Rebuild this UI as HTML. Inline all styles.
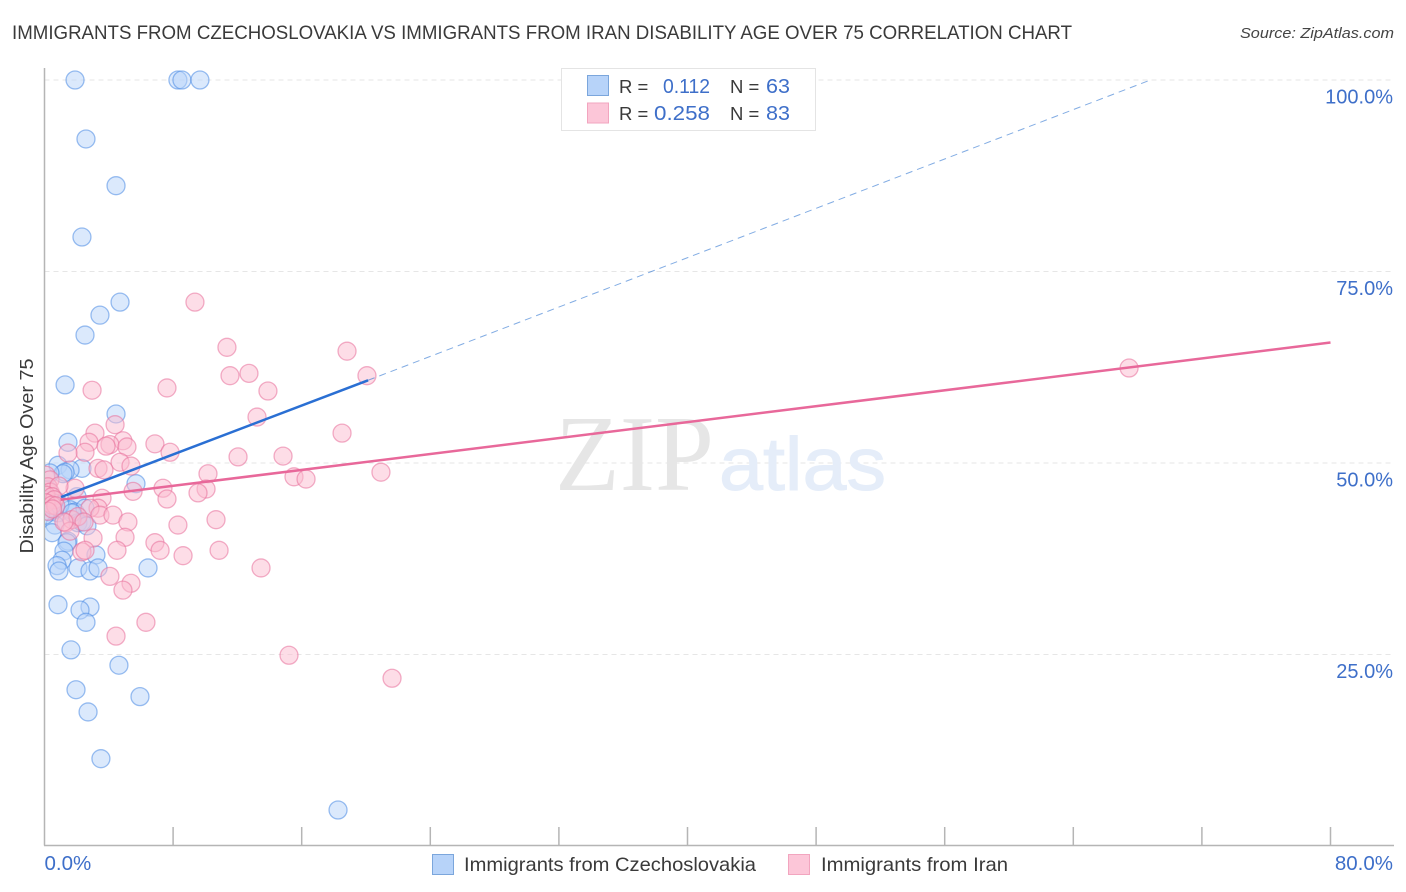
<!DOCTYPE html>
<html lang="en">
<head>
<meta charset="utf-8">
<title>Immigrants from Czechoslovakia vs Immigrants from Iran Disability Age Over 75 Correlation Chart</title>
<style>
html,body{margin:0;padding:0;background:#fff;}
svg{display:block;font-family:"Liberation Sans",sans-serif;}
</style>
</head>
<body>
<svg id="chart" xmlns="http://www.w3.org/2000/svg" width="1406" height="892" viewBox="0 0 1406 892">
  <defs>
    <clipPath id="plot-clip"><rect x="45" y="60" width="1350" height="785"/></clipPath>
  </defs>
  <rect x="0" y="0" width="1406" height="892" fill="#ffffff"/>
  <text x="12" y="39" font-size="19" fill="#3a3a3a" textLength="1060" lengthAdjust="spacingAndGlyphs">IMMIGRANTS FROM CZECHOSLOVAKIA VS IMMIGRANTS FROM IRAN DISABILITY AGE OVER 75 CORRELATION CHART</text>
  <text x="1394" y="38" font-size="15" font-style="italic" fill="#444444" text-anchor="end" textLength="154" lengthAdjust="spacingAndGlyphs">Source: ZipAtlas.com</text>

  <g id="grid"></g>

  <g>
    <text x="555" y="490" font-family="'Liberation Serif',serif" font-size="108" fill="#e6e6e6" textLength="159" lengthAdjust="spacingAndGlyphs">ZIP</text>
    <text x="719" y="490" font-size="75" fill="#e5edf9" stroke="#e5edf9" stroke-width="1" textLength="167" lengthAdjust="spacingAndGlyphs">atlas</text>
  </g>

  <g id="axes"></g>
  <g clip-path="url(#plot-clip)">
    <g id="points-blue"></g>
    <g id="points-pink"></g>
    <g id="trends"></g>
  </g>
  <g id="tick-labels"></g>

  <text transform="translate(33,456) rotate(-90)" font-size="18" fill="#3a3a3a" text-anchor="middle" textLength="195" lengthAdjust="spacingAndGlyphs">Disability Age Over 75</text>

  <g>
    <rect x="561.5" y="68.5" width="254" height="62" fill="#ffffff" stroke="#e4e4e4" stroke-width="1"/>
    <rect x="587.5" y="75.5" width="21" height="20" fill="#b7d3f9" stroke="#7ba6dc" stroke-width="1"/>
    <rect x="587.5" y="103" width="21" height="20" fill="#fcc6d8" stroke="#f2a5bf" stroke-width="1"/>
    <text x="619" y="93" font-size="18.5" fill="#3a3a3a">R =</text>
    <text x="710" y="93" font-size="20.5" fill="#3e6fc9" text-anchor="end" textLength="47" lengthAdjust="spacingAndGlyphs">0.112</text>
    <text x="730" y="93" font-size="18.5" fill="#3a3a3a">N =</text>
    <text x="790" y="93" font-size="20.5" fill="#3e6fc9" text-anchor="end" textLength="24" lengthAdjust="spacingAndGlyphs">63</text>
    <text x="619" y="120" font-size="18.5" fill="#3a3a3a">R =</text>
    <text x="710" y="120" font-size="20.5" fill="#3e6fc9" text-anchor="end" textLength="56" lengthAdjust="spacingAndGlyphs">0.258</text>
    <text x="730" y="120" font-size="18.5" fill="#3a3a3a">N =</text>
    <text x="790" y="120" font-size="20.5" fill="#3e6fc9" text-anchor="end" textLength="24" lengthAdjust="spacingAndGlyphs">83</text>
  </g>

  <g>
    <rect x="432.5" y="854.5" width="21" height="20" fill="#b7d3f9" stroke="#7ba6dc" stroke-width="1"/>
    <text x="464" y="871" font-size="19.5" fill="#3a3a3a" textLength="292" lengthAdjust="spacingAndGlyphs">Immigrants from Czechoslovakia</text>
    <rect x="788.5" y="854.5" width="21" height="20" fill="#fcc6d8" stroke="#f2a5bf" stroke-width="1"/>
    <text x="821" y="871" font-size="19.5" fill="#3a3a3a" textLength="187" lengthAdjust="spacingAndGlyphs">Immigrants from Iran</text>
  </g>
</svg>
<script>
const xTicks = [0, 8, 16, 24, 32, 40, 48, 56, 64, 72, 80];
const yTicks = [25, 50, 75, 100];
const xLabelValues = [0, 80];
const xTickLabels = ["0.0%", "80.0%"];
const yTickLabels = ["25.0%", "50.0%", "75.0%", "100.0%"];

const blueX = [1.90,8.30,8.55,9.67,2.58,4.45,2.33,4.70,3.45,2.52,1.28,4.45,1.46,0.84,2.33,1.59,1.28,1.15,5.69,0.34,2.02,0.22,0.34,0.47,0.09,0.65,0.34,0.84,1.59,1.90,2.52,0.65,0.47,2.08,2.33,2.64,1.46,1.40,1.21,1.09,0.78,0.90,3.20,2.08,2.83,3.33,6.44,0.84,2.83,2.21,2.58,1.65,4.63,1.96,5.94,2.71,3.51,18.26,0.16,0.65,0.96,0.03,1.71];
const blueY = [100,100,100,100,92.3,86.2,79.5,71.0,69.3,66.7,60.2,56.4,52.7,49.7,49.3,49.1,48.8,48.6,47.3,48.7,45.6,46.5,45.2,44.5,44.3,43.9,43.6,43.5,43.9,43.6,44.1,41.9,40.9,42.2,42.3,41.8,39.8,39.6,38.5,37.3,36.6,35.9,38.0,36.3,35.9,36.3,36.3,31.5,31.2,30.8,29.2,25.6,23.6,20.4,19.5,17.5,11.4,4.7,45.2,45.2,44.5,43.2,43.5];

const pinkX = [67.47,9.36,11.35,18.82,11.54,12.72,20.06,13.90,2.96,7.62,13.22,4.39,18.51,3.14,2.77,4.88,4.07,3.83,5.13,6.87,7.81,2.52,1.46,12.04,14.84,4.70,5.38,3.33,3.70,10.17,20.93,15.52,16.27,7.37,10.05,9.55,7.62,5.51,1.90,3.58,3.33,2.83,3.45,4.26,5.19,8.30,10.67,5.01,3.02,4.51,6.87,7.19,8.62,10.86,13.47,2.33,2.52,4.07,5.38,4.88,6.31,4.45,15.21,21.62,0.09,0.34,0.22,0.35,0.90,0.09,0.47,0.60,0.09,0.47,0.70,0.22,0.50,1.34,1.71,2.08,2.46,1.59,1.21];
const pinkY = [62.4,71.0,65.1,64.6,61.4,61.7,61.4,59.4,59.5,59.8,56.0,55.0,53.9,53.9,52.7,52.9,52.4,52.2,52.1,52.5,51.4,51.4,51.3,50.8,50.9,50.1,49.6,49.3,49.1,48.6,48.8,48.2,47.9,46.7,46.6,46.1,45.3,46.3,46.7,45.4,44.1,44.1,43.2,43.2,42.3,41.9,42.6,40.3,40.2,38.6,39.6,38.6,37.9,38.6,36.3,38.4,38.6,35.2,34.3,33.4,29.2,27.4,24.9,21.9,48.4,47.8,46.9,46.2,47.0,45.8,45.6,45.2,44.8,44.5,44.4,43.7,44.0,42.2,42.6,43.0,42.3,41.1,42.3];

const blueTrendX = [1.03, 20.13];
const blueTrendY = [45.55, 60.8];
const blueDashX = [20.13, 68.8];
const blueDashY = [60.8, 100];
const pinkTrendX = [1.0, 80];
const pinkTrendY = [45.2, 65.73];

const SVGNS = "http://www.w3.org/2000/svg";
function xScale(v) { return 44.5 + v * (1330.5 - 44.5) / 80; }
function yScale(v) { return 846 - v * (846 - 80) / 100; }

function make(tag, attrs, parent) {
  const el = document.createElementNS(SVGNS, tag);
  for (const k in attrs) el.setAttribute(k, attrs[k]);
  parent.appendChild(el);
  return el;
}

const grid = document.getElementById("grid");
yTicks.forEach(function (t) {
  const el = make("line", {x1: 44.5, x2: 1394, y1: yScale(t), y2: yScale(t), stroke: "#e6e6e6", "stroke-width": 1, "stroke-dasharray": "5 4"}, grid);
  
  
});

const axes = document.getElementById("axes");
const yAxisLine = make("line", {x1: 44.5, x2: 44.5, y1: 68, y2: 845.5, stroke: "#b5b5b5", "stroke-width": 1.5}, axes);


const xAxisLine = make("line", {x1: 44, x2: 1394, y1: 845.5, y2: 845.5, stroke: "#b5b5b5", "stroke-width": 1.5}, axes);


xTicks.slice(1).forEach(function (t) {
  const el = make("line", {x1: xScale(t), x2: xScale(t), y1: 827, y2: 845.5, stroke: "#b5b5b5", "stroke-width": 1.5}, axes);
  
  
});

function drawPoints(groupId, xs, ys, fill, stroke, name) {
  const g = document.getElementById(groupId);
  xs.forEach(function (x, i) {
    const c = make("circle", {cx: xScale(x), cy: yScale(ys[i]), r: 9, fill: fill, "fill-opacity": 0.5, stroke: stroke, "stroke-opacity": 0.55, "stroke-width": 1.3}, g);
    
    
  });
}
drawPoints("points-blue", blueX, blueY, "#b7d3f9", "#4a8ae4", "czechoslovakia-point");
drawPoints("points-pink", pinkX, pinkY, "#fcbcd0", "#e8709b", "iran-point");

const trends = document.getElementById("trends");
const dash = make("line", {x1: xScale(blueDashX[0]), y1: yScale(blueDashY[0]), x2: xScale(blueDashX[1]), y2: yScale(blueDashY[1]), stroke: "#2f74d0", "stroke-width": 1, "stroke-dasharray": "7 5", "stroke-opacity": 0.6}, trends);


const blueLine = make("line", {x1: xScale(blueTrendX[0]), y1: yScale(blueTrendY[0]), x2: xScale(blueTrendX[1]), y2: yScale(blueTrendY[1]), stroke: "#2a6fd3", "stroke-width": 2.5}, trends);


const pinkLine = make("line", {x1: xScale(pinkTrendX[0]), y1: yScale(pinkTrendY[0]), x2: xScale(pinkTrendX[1]), y2: yScale(pinkTrendY[1]), stroke: "#e8689a", "stroke-width": 2.5}, trends);



const labels = document.getElementById("tick-labels");
yTicks.forEach(function (t, i) {
  const el = make("text", {x: 1393, y: yScale(t) + 23.5, "font-size": 20, fill: "#3e6fc9", "text-anchor": "end"}, labels);
  el.textContent = yTickLabels[i];
  
  
});
xLabelValues.forEach(function (v, i) {
  const anchor = i === 0 ? "start" : "end";
  const px = i === 0 ? xScale(v) : 1393;
  const el = make("text", {x: px, y: 870, "font-size": 20.5, fill: "#3e6fc9", "text-anchor": anchor}, labels);
  el.textContent = xTickLabels[i];
  
  
});
</script>
</body>
</html>
